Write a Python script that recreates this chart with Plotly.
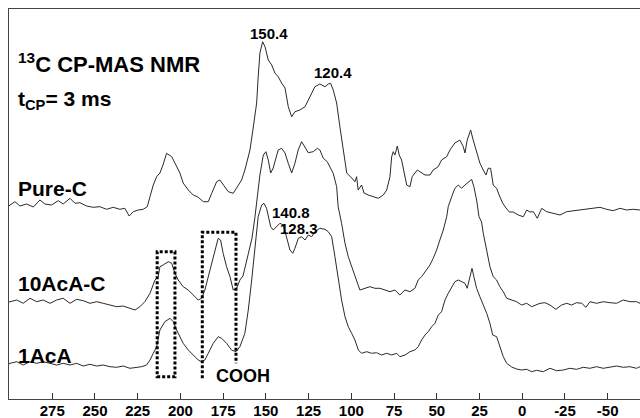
import plotly.graph_objects as go

# ---- data (chemical shift in ppm, intensity in arbitrary units incl. stacking offset) ----
pure_ppm = [300.3, 299.7, 296.8, 293.9, 290, 286.1, 282.2, 279.3, 275.4, 271.5, 268.6, 264.6, 261.7, 258.8,
            254.9, 251, 247.1, 243.2, 239.3, 235.4, 232.5, 230, 227.6, 224.7, 221.8, 219.4, 217.8, 215.9, 213.9,
            212, 210.2, 208.1, 205.1, 202.2, 200.3, 198.4, 195.4, 192.5, 189.8, 186.6, 183.7, 181.7, 178.8, 176.9,
            174.9, 172, 169.1, 166.2, 164.2, 162.3, 160.5, 159.3, 157.6, 155.4, 154.5, 153.5, 151.9, 150.5, 148.6,
            146.6, 144.7, 142.8, 140.8, 138.8, 136.9, 134.9, 133, 130.1, 127.1, 124.2, 121.3, 118.4, 115.4, 113.5,
            112.1, 110.6, 108.6, 106.7, 104.7, 102.7, 99.8, 97.9, 96.9, 96, 94, 92.6, 90.1, 87.2, 84.2, 81.3, 79.3,
            77.4, 76.4, 75.5, 74.5, 73.1, 72, 70.6, 69.2, 67.6, 65.7, 64.4, 62.8, 61.4, 59.9, 56.9, 54, 52.1, 49.2,
            47.2, 44.2, 42.3, 39.4, 36.5, 34.5, 33.5, 32.2, 30.2, 28.7, 26.7, 24.8, 22.8, 21.2, 19.9, 18.5, 17, 15,
            13.5, 11.5, 9.5, 7.6, 5.3, 2.3, -0.6, -2.6, -4.5, -6.5, -8.8, -11.4, -14.3, -18.1, -22.1, -26, -29.8,
            -33.8, -37.7, -41.6, -45.5, -49.4, -53.2, -57.2, -61.1, -64.9, -68.9]
pure_int = [193, 194, 197.3, 193, 195, 192, 199, 195, 194, 198.3, 195, 200.7, 195.7, 196.3,
            193, 191.7, 192.3, 189.7, 191.7, 189.7, 190.7, 183, 187.3, 189, 189.7, 192.3, 202.3, 214, 222.3,
            226, 234, 245.7, 242.3, 232.3, 226, 216, 209, 204, 202, 197.3, 197.3, 205.7, 217.3, 219,
            214, 207.3, 205.7, 213, 219, 229, 242, 249, 269, 296, 322.3, 346, 357.3, 352.3, 339,
            334, 326, 322.3, 316, 311, 292.3, 282.3, 287.3, 289, 292.3, 302.3, 312.3, 315, 312.3, 315,
            315.7, 309, 296, 272.3, 249, 226, 221, 217.3, 222.3, 209, 214, 206, 204, 202.3, 200.7, 204, 209,
            222.3, 242.3, 247.3, 244, 253, 244, 239, 226, 214, 212.3, 222.3, 226, 229, 227.3, 224, 224, 229, 232.3,
            239, 242.3, 249, 256, 259, 252.3, 246, 259, 269, 259, 247.3, 236, 229, 224, 230.7, 230.7, 214, 210.7,
            204, 196, 191, 187, 187, 184, 182.3, 189, 187, 187.3, 180.7, 190.7, 187.3, 185.7, 184, 187.3, 188.3,
            189, 189.7, 190.7, 191.7, 189.7, 188.3, 190.7, 189, 189.7, 189]

acA10_ppm = [300.3, 299.7, 295.8, 292, 288, 284.1, 280.3, 276.3, 272.4, 268.6, 264.6, 260.7, 256.9, 252.9,
             249, 245.2, 241.2, 237.3, 233.5, 229.5, 226.6, 223.7, 220.8, 217.8, 214.9, 213, 212, 210.1, 207.1,
             205.1, 203.2, 201.3, 198.4, 195.4, 192.5, 189.6, 187.6, 185.7, 182.7, 179.8, 177.9, 176.5, 175, 173,
             171, 169.1, 167.1, 165.2, 163.4, 161.7, 159.9, 158.1, 156.4, 155, 153.5, 151.5, 150, 148.6, 147.2,
             145.7, 144.1, 142.8, 140.8, 138.8, 136.9, 134.9, 133, 131.1, 129.1, 127.1, 125.2, 122.3, 119.9, 118.4,
             116.4, 114.1, 112.5, 110.6, 108.6, 107.7, 105.7, 103.7, 101.8, 99.8, 97.9, 95.9, 95, 92, 89.1, 86.2,
             83.3, 80.3, 77.4, 74.5, 71.6, 68.6, 65.7, 62.8, 60.9, 58.9, 56, 54, 52.1, 50.1, 48.2, 46.2, 44.2, 43.3,
             41.3, 39.4, 37.4, 35.5, 33.5, 31.6, 29.6, 28.3, 26.7, 25.3, 23.8, 22.8, 20.8, 18.9, 17, 15, 13.1, 11.1,
             9.1, 6.2, 3.3, 0.4, -2.6, -5.5, -8.4, -10.4, -13.3, -16.2, -19.7, -23, -26, -28.9, -31.8, -34.8, -37.3,
             -39.6, -43.5, -47.4, -51.3, -55.2, -59.1, -63, -66.9, -68.9]
acA10_int = [97, 97.3, 99, 95.7, 100.7, 97.3, 99, 95.7, 99, 100.7, 95.7, 99.7, 98.3, 95.7,
             97.3, 95.7, 94, 92.3, 93, 90.7, 89, 92.3, 97.3, 105.7, 119, 122.3, 132.3, 134, 137.3,
             135.7, 125.7, 119, 112.3, 109, 104, 99, 100.7, 109, 129, 149, 160.7, 159, 145.7, 132.3,
             122.3, 109, 110.7, 119, 123, 135, 147, 161, 182, 202.3, 224, 244, 247.3, 239, 226,
             231, 242.3, 249, 250.7, 246, 235.7, 226, 235.7, 249, 257.3, 252.3, 246.3, 247.3, 250.7, 249,
             240.7, 237.3, 232.3, 225.7, 212.3, 192.3, 175.7, 155.7, 142.3, 132.3, 122.3, 112.3, 109, 110.7, 112.3, 110.7,
             110.7, 109, 107.3, 109, 104, 109, 107.3, 110.7, 119, 122.3, 129, 134, 140.7, 149, 159, 169, 182.3, 192.3,
             202.3, 210.7, 214, 210.7, 214, 217.3, 219.7, 212.3, 199, 182.3, 177, 165.7, 149, 132.3, 122.3, 119, 112.3, 107.3,
             100.7, 99, 97.3, 94, 95.7, 92.3, 94, 95.7, 96.3, 94, 89.7, 94, 95.7, 94, 96.3, 95.7, 91.7,
             97.3, 95.7, 97.3, 96.3, 95.7, 99, 97.3, 97.3, 95.7]

acA1_ppm = [300.3, 299.7, 295.8, 292, 288, 284.1, 280.3, 276.3, 272.4, 268.6, 264.6, 260.7, 256.9, 252.9,
            249, 245.2, 241.2, 237.3, 233.5, 229.5, 225.6, 222.7, 219.8, 217.8, 215.9, 213.9, 212, 209.1, 206.1,
            204.2, 202.2, 200.3, 198.4, 195.4, 192.5, 189.6, 187.6, 185.7, 183.7, 180.8, 177.9, 175.9, 173, 170.1,
            167.5, 165.2, 162.3, 160.3, 158.3, 156.4, 154.5, 152.5, 151.1, 149.6, 148.6, 147.2, 145.7, 143.7, 141.8,
            139.8, 137.9, 135.9, 134.3, 133, 131, 129.1, 127.1, 125.2, 123.2, 121.3, 118.4, 115.4, 113.5, 111.5,
            109.6, 107.7, 105.7, 103.7, 101.8, 99.8, 97.9, 95.9, 94, 91, 88.1, 85.2, 82.3, 79.3, 76.4, 73.5, 71.6,
            68.6, 65.7, 62.8, 60.9, 58.9, 56.9, 55, 53, 51.1, 49.1, 47.2, 45.2, 43.3, 41.3, 39.4, 37.4, 35.5, 33.5,
            32.2, 30.6, 29.4, 28.3, 26.7, 24.8, 22.8, 20.8, 18.9, 17.3, 15, 13.1, 11.1, 9.1, 6.2, 3.3, 0.4, -2.6,
            -5.5, -8.4, -12.3, -16.2, -20.1, -24, -27.9, -31.8, -35.7, -39.6, -43.5, -47.4, -51.3, -55.2, -59.1,
            -63, -66.9, -68.9]
acA1_int = [35, 35.7, 37.3, 34, 37.3, 35.7, 37.3, 35.7, 34, 35.7, 34, 35.7, 33, 34.7,
            33, 34, 32.3, 31.7, 33, 30.7, 31.7, 32.3, 34, 39, 45.7, 52.3, 69, 77.3, 80.7,
            77.3, 69, 62.3, 55.7, 49, 44, 39, 37.3, 39, 45.7, 55.7, 62.3, 60.7, 55.7, 49,
            47.3, 52.3, 65.7, 89, 119, 154, 182.3, 194, 195.7, 190.7, 182.3, 172.3, 169, 172.3, 175.7,
            174, 162.3, 149, 145.7, 150.7, 160.7, 162.3, 159, 164, 162.3, 167.3, 170.7, 169.7, 167.3, 162.3,
            142.3, 119, 99, 82.3, 72.3, 65.7, 59, 49, 45.7, 47.3, 45.7, 46.3, 44, 45.7, 44, 45.7, 42.3,
            44, 47.3, 49, 52.3, 59, 64, 67.3, 72.3, 75.7, 84, 87.3, 99, 105.7, 112.3, 117.3, 119, 117.3, 115.7,
            110.7, 122.3, 130.7, 122.3, 110.7, 102.3, 94, 85.7, 75.7, 64, 62.3, 52.3, 42.3, 35.7, 32, 30, 29, 29.7,
            27.3, 28.7, 27.3, 30.7, 28.3, 29, 30.7, 29.7, 31.7, 30.7, 32.3, 30.7, 31.7, 33, 31.7,
            32.3, 30.7, 32.3]

tick_vals = [275, 250, 225, 200, 175, 150, 125, 100, 75, 50, 25, 0, -25, -50]
tick_text = ["275", "250", "225", "200", "175", "150", "125", "100", "75", "50", "25", "0", "-25", "-50"]

sample_names = ["Pure-C", "10AcA-C", "1AcA"]
peak_labels = ["150.4", "120.4", "140.8", "128.3"]

FONT = "Liberation Sans, Arial, Helvetica, sans-serif"
LINE = "#2a2a2a"

fig = go.Figure()
for xs, ys, nm in [(pure_ppm, pure_int, sample_names[0]),
                   (acA10_ppm, acA10_int, sample_names[1]),
                   (acA1_ppm, acA1_int, sample_names[2])]:
    fig.add_trace(go.Scatter(x=xs, y=ys, mode="lines", name=nm,
                             line=dict(color=LINE, width=1), showlegend=False, hoverinfo="skip"))

ann = []
def txt(x, y, t, size, xanchor="left"):
    ann.append(dict(x=x, y=y, xref="x", yref="y", text=t, showarrow=False,
                    xanchor=xanchor, yanchor="middle", borderpad=0,
                    font=dict(family=FONT, size=size, color="black", weight="bold")))

txt(295.7, 336, "<sup>13</sup>C CP-MAS NMR", 22)
txt(295.7, 299, "t<sub>CP</sub>= 3 ms", 21)
txt(295.7, 211, sample_names[0], 21)
txt(295.7, 116, sample_names[1], 21)
txt(295.7, 44, sample_names[2], 21)
txt(179.8, 23.3, "COOH", 18)
txt(148.2, 365.7, peak_labels[0], 15, "center")
txt(110.9, 326.5, peak_labels[1], 15, "center")
txt(135.3, 187, peak_labels[2], 15, "center")
txt(130.7, 171, peak_labels[3], 15, "center")

dot = dict(color="black", width=3, dash="3px,2px")
shapes = [
    dict(type="rect", xref="x", yref="y", x0=213.6, x1=203.2, y0=22.3, y1=147.3, line=dot),
    dict(type="path", xref="x", yref="y",
         path="M 187.2,20.7 L 187.2,166.7 L 167.5,166.7 L 167.5,35.7", line=dot),
]

fig.update_layout(
    template="none",
    width=640, height=418,
    margin=dict(l=9, r=0, t=9, b=19, pad=0),
    paper_bgcolor="white", plot_bgcolor="white",
    annotations=ann, shapes=shapes,
    xaxis=dict(range=[300.3, -68.9], tickvals=tick_vals, ticktext=tick_text,
               ticks="inside", ticklen=6, tickcolor="#333", tickwidth=1,
               showline=True, linecolor="#444", linewidth=1, mirror=True,
               showgrid=False, zeroline=False, automargin=False,
               ticklabelstandoff=-2,
               tickfont=dict(family=FONT, size=15, color="black", weight="bold")),
    yaxis=dict(range=[0, 390], showline=True, linecolor="#444", linewidth=1,
               showticklabels=False, ticks="", showgrid=False, zeroline=False,
               automargin=False),
)

fig.write_html("out.html", config={"displayModeBar": False},
               post_script="document.body.style.margin='0';document.body.style.overflow='hidden';")
